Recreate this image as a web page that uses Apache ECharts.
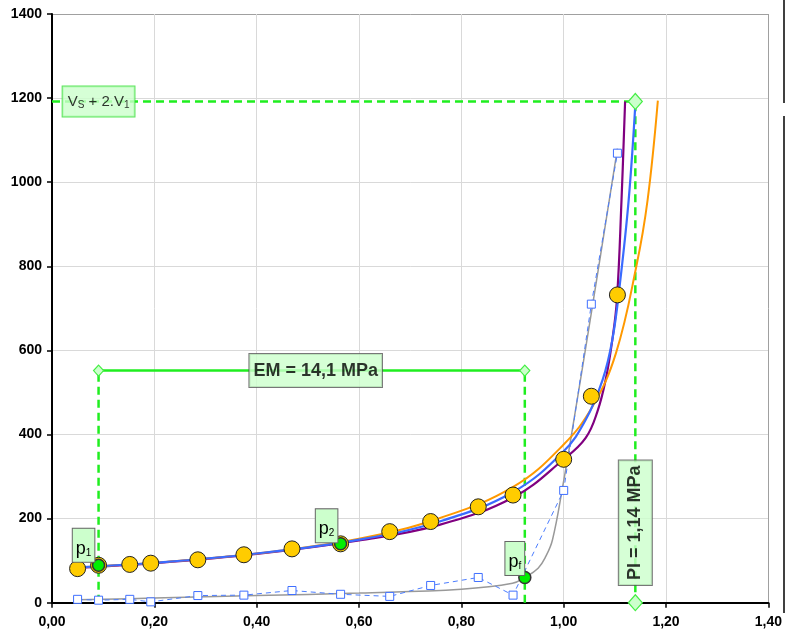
<!DOCTYPE html>
<html><head><meta charset="utf-8">
<script src="https://cdn.jsdelivr.net/npm/echarts@6/dist/echarts.min.js"></script>
<style>html,body{margin:0;padding:0;background:#fff}#c{width:785px;height:639px}</style>
</head><body><div id="c"></div>
<script>
// ---- data ----
const xPoints    = [0.050,0.091,0.152,0.193,0.285,0.375,0.469,0.564,0.660,0.740,0.833,0.901,1.000,1.054,1.105];
const yMeasured  = [81,89,91,94,102,114,128,140,169,193,228,256,341,491,732];
const yRaw       = [8,6,8,2,17,18,29,20,15,41,60,18,267,710,1069];

const grayFitX   = [0.05,0.2,0.4,0.6,0.8,0.9,0.924,0.95,0.965,0.978,0.998,1.02,1.056,1.105];
const grayFitY   = [7,11,17,23,32,46,60,82,110,149,276,435,704,1080];
const orangeFitX = [0.05,0.2,0.4,0.6,0.757,0.902,0.999,1.056,1.102,1.142,1.164,1.184];
const orangeFitY = [84,95,117,152,201,276,375,466,593,800,958,1194];
const blueFitX   = [0.05,0.2,0.4,0.6,0.757,0.902,0.999,1.043,1.076,1.095,1.110,1.127,1.140];
const blueFitY   = [84,95,117,150,193,264,359,435,530,625,760,958,1185];
const purpleFitX = [0.05,0.2,0.4,0.6,0.757,0.902,0.999,1.043,1.066,1.082,1.095,1.104,1.113,1.120];
const purpleFitY = [83,94,116,148,185,251,340,392,455,530,625,720,958,1192];

const keyX      = [0.091,0.564,0.924];
const keyY      = [89,140,60];
const keySub    = ['1','2','f'];

const vsLevel   = 1192;
const piValue   = 1.14;
const piLabelY  = 190;
const emLevel   = 552;
const emRange   = [0.091,0.924];
const emText    = 'EM = 14,1 MPa';
const piText    = 'PI = 1,14 MPa';

const xTickLabels = ['0,00','0,20','0,40','0,60','0,80','1,00','1,20','1,40'];
const yTickLabels = ['0','200','400','600','800','1000','1200','1400'];

// ---- build ----
const zip = (a,b) => a.map((v,i)=>[v,b[i]]);
const FONT = "'Liberation Sans', Arial, sans-serif";
const GREEN = '#1fee1f';
const BOX = '#ccffcc';

const chart = echarts.init(document.getElementById('c'), null, {renderer:'canvas'});

const fitLine = (name, xs, ys, color, w, z) => ({
  name, type:'line', data: zip(xs,ys), smooth:0.4,
  showSymbol:false, symbol:'none', z, lineStyle:{color, width:w}, silent:true
});

const gridColors = ['#d9d9d9','#d9d9d9','#d9d9d9','#d9d9d9','#d9d9d9','#d9d9d9','#d9d9d9','#a0a0a0'];

const keyOffsets = [[-15,-20],[-14,-18],[-10,-19]];

chart.setOption({
  animation:false,
  backgroundColor:'#fff',
  textStyle:{fontFamily:FONT},
  grid:{left:52, right:15.5, top:14, bottom:36.3, containLabel:false},
  xAxis:{
    type:'value', min:0, max:1.4, interval:0.2,
    axisLine:{show:true, onZero:false, lineStyle:{color:'#000', width:2}},
    axisTick:{show:true, length:5, lineStyle:{color:'#000', width:1.5}},
    axisLabel:{color:'#000', fontWeight:'bold', fontSize:14, fontFamily:FONT, margin:12,
      formatter:(v)=> xTickLabels[Math.round(v/0.2)] },
    splitLine:{show:true, lineStyle:{color:gridColors, width:1}}
  },
  yAxis:{
    type:'value', min:0, max:1400, interval:200,
    axisLine:{show:true, onZero:false, lineStyle:{color:'#000', width:2}},
    axisTick:{show:true, length:5, lineStyle:{color:'#000', width:1.5}},
    axisLabel:{color:'#000', fontWeight:'bold', fontSize:14, fontFamily:FONT, margin:10,
      formatter:(v)=> yTickLabels[Math.round(v/200)] },
    splitLine:{show:true, lineStyle:{color:gridColors, width:1}}
  },
  graphic:[
    {type:'line', shape:{x1:784,y1:0,x2:784,y2:103}, style:{stroke:'#000', lineWidth:1.5}},
    {type:'line', shape:{x1:784,y1:116,x2:784,y2:613}, style:{stroke:'#000', lineWidth:1.5}}
  ],
  series:[
    // annotation guide lines
    {type:'line', data:[[0,vsLevel],[piValue,vsLevel],[piValue,0]], showSymbol:false, symbol:'none', z:2,
     lineStyle:{color:GREEN, width:2.5, type:[8,5]}, silent:true},
    {type:'line', data:[[emRange[0],0],[emRange[0],emLevel]], showSymbol:false, symbol:'none', z:2,
     lineStyle:{color:GREEN, width:2.5, type:[8,5]}, silent:true},
    {type:'line', data:[[emRange[1],0],[emRange[1],emLevel]], showSymbol:false, symbol:'none', z:2,
     lineStyle:{color:GREEN, width:2.5, type:[8,5]}, silent:true},
    {type:'line', data:[[emRange[0],emLevel],[emRange[1],emLevel]], showSymbol:false, symbol:'none', z:2,
     lineStyle:{color:GREEN, width:2.5}, silent:true},
    // raw data + fitted curves
    fitLine('gray', grayFitX, grayFitY, '#999999', 1.5, 3),
    {type:'line', data:zip(xPoints,yRaw), z:3, symbol:'rect', symbolSize:8, showSymbol:true,
     itemStyle:{color:'#fff', borderColor:'#3f6fff', borderWidth:1, opacity:1},
     lineStyle:{color:'#4a7cff', width:1, type:[5,4]}, silent:true},
    fitLine('purple', purpleFitX, purpleFitY, '#800080', 2.2, 4),
    fitLine('orange', orangeFitX, orangeFitY, '#ff9900', 2, 4),
    fitLine('blue', blueFitX, blueFitY, '#3a6bff', 2.2, 4),
    // measured points
    {type:'scatter', data:zip(xPoints,yMeasured), z:5, symbolSize:16,
     itemStyle:{color:'#ffcc00', borderColor:'#222', borderWidth:1, opacity:1}, silent:true},
    // diamonds
    {type:'scatter', data:[[piValue,vsLevel],[piValue,0]], z:6, symbol:'diamond', symbolSize:[14,16],
     itemStyle:{color:BOX, borderColor:'#44ee44', borderWidth:1.2, opacity:1}, silent:true},
    {type:'scatter', data:[[emRange[0],emLevel],[emRange[1],emLevel]], z:6, symbol:'diamond', symbolSize:[10,11],
     itemStyle:{color:BOX, borderColor:'#44ee44', borderWidth:1.2, opacity:1}, silent:true},
    // key points p1, p2, pf
    {type:'scatter', z:7, symbolSize:12,
     itemStyle:{color:'#00ee00', borderColor:'#333', borderWidth:1.5, opacity:1},
     data: keyX.map((x,i)=>({value:[x,keyY[i]], label:{offset:keyOffsets[i], formatter:'{p|p}{s|'+keySub[i]+'}'}})),
     label:{show:true, position:'inside', backgroundColor:BOX, borderColor:'#666', borderWidth:1,
       padding:[11,3,4,3],
       rich:{p:{fontSize:18, color:'#000', fontFamily:FONT, lineHeight:18},
             s:{fontSize:10, color:'#000', fontFamily:FONT, lineHeight:12, verticalAlign:'bottom'}}},
     silent:true},
    // text boxes
    {type:'scatter', z:8, symbolSize:0, silent:true,
     data:[{value:[keyX[0],vsLevel], label:{
        show:true, position:'inside', formatter:'{n|V}{s|S}{n| + 2.V}{s|1}',
        backgroundColor:BOX, borderColor:'#33dd33', borderWidth:1, padding:[6,5,6,5],
        rich:{n:{fontSize:15, color:'#000', fontFamily:FONT, lineHeight:18},
              s:{fontSize:10, color:'#000', fontFamily:FONT, lineHeight:12, verticalAlign:'bottom'}}}},
       {value:[(emRange[0]+emRange[1])/2, emLevel], label:{
        show:true, position:'inside', offset:[4,0], formatter:emText,
        fontSize:18, fontWeight:'bold', color:'#000', fontFamily:FONT,
        backgroundColor:BOX, borderColor:'#555', borderWidth:1, padding:[8,4,7,4]}},
       {value:[piValue, piLabelY], label:{
        show:true, position:'inside', rotate:90, formatter:piText,
        fontSize:18, fontWeight:'bold', color:'#000', fontFamily:FONT,
        backgroundColor:BOX, borderColor:'#555', borderWidth:1, padding:[8,5,7,5]}}
     ]}
  ]
});
</script></body></html>
